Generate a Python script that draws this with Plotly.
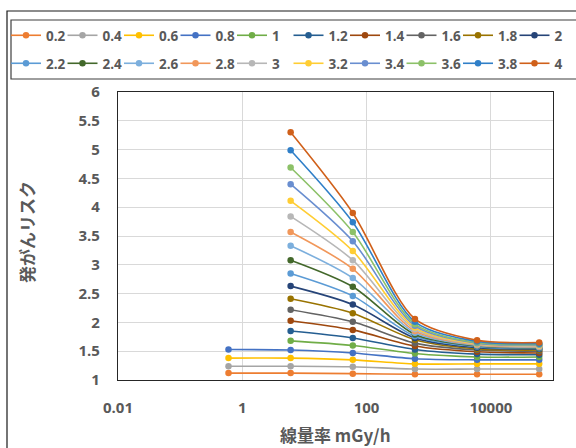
import plotly.graph_objects as go

# ---- data ----
dose_rate = [0.6, 6, 60, 600, 6000, 60000]
series_names = ["0.2", "0.4", "0.6", "0.8", "1", "1.2", "1.4", "1.6", "1.8", "2",
                "2.2", "2.4", "2.6", "2.8", "3", "3.2", "3.4", "3.6", "3.8", "4"]
risk_at_0_6 = [1.12, 1.24, 1.38, 1.53] + [None] * 16
risk_at_6 = [1.12, 1.24, 1.38, 1.52, 1.68, 1.85, 2.03, 2.22, 2.41, 2.63,
             2.85, 3.08, 3.33, 3.57, 3.84, 4.11, 4.40, 4.69, 4.99, 5.30]
risk_at_60 = [1.11, 1.23, 1.35, 1.47, 1.60, 1.73, 1.87, 2.01, 2.16, 2.31,
              2.46, 2.62, 2.77, 2.93, 3.08, 3.24, 3.41, 3.57, 3.74, 3.90]
risk_at_600 = [1.10, 1.19, 1.28, 1.37, 1.46, 1.53, 1.59, 1.64, 1.70, 1.73,
               1.76, 1.79, 1.82, 1.85, 1.88, 1.91, 1.94, 1.97, 2.01, 2.06]
risk_at_6000 = [1.10, 1.19, 1.28, 1.35, 1.40, 1.45, 1.49, 1.52, 1.54, 1.56,
                1.58, 1.59, 1.60, 1.61, 1.62, 1.63, 1.64, 1.65, 1.67, 1.69]
risk_at_60000 = [1.10, 1.19, 1.28, 1.35, 1.40, 1.44, 1.47, 1.50, 1.52, 1.54,
                 1.55, 1.56, 1.57, 1.58, 1.59, 1.60, 1.61, 1.62, 1.63, 1.65]
colors = ["#ED7D31", "#A5A5A5", "#FFC000", "#4472C4", "#70AD47",
          "#255E91", "#9E480E", "#636363", "#997300", "#264478",
          "#5B9BD5", "#43682B", "#7CAFDD", "#F1975A", "#B7B7B7",
          "#FFCD33", "#698ED0", "#8CC168", "#2F7FC8", "#D0601A"]
x_tickvals = [0.01, 1, 100, 10000]
x_ticktext = ["0.01", "1", "100", "10000"]
y_tickvals = [1, 1.5, 2, 2.5, 3, 3.5, 4, 4.5, 5, 5.5, 6]
y_ticktext = ["1", "1.5", "2", "2.5", "3", "3.5", "4", "4.5", "5", "5.5", "6"]

W, H = 576, 448
TXT = "#595959"
tick_font = dict(family="Open Sans", size=15, color=TXT, weight="bold")
leg_font = dict(family="Open Sans", size=13.5, color=TXT, weight="bold")
cjk_font = dict(family="Noto Sans CJK JP", size=17, color=TXT, weight="bold")

fig = go.Figure()
for i, name in enumerate(series_names):
    ys = [risk_at_0_6[i], risk_at_6[i], risk_at_60[i], risk_at_600[i],
          risk_at_6000[i], risk_at_60000[i]]
    fig.add_trace(go.Scatter(
        x=dose_rate, y=ys, name=name, mode="lines+markers",
        line=dict(color=colors[i], width=1.6, shape="spline", smoothing=0.8),
        marker=dict(color=colors[i], size=6.5),
        connectgaps=False,
        legend="legend" if i < 10 else "legend2",
    ))

def px_x(p):
    return p / W

def px_y(p):
    return 1 - p / H

leg_common = dict(orientation="h", xanchor="left", yanchor="top",
                  x=px_x(6), entrywidth=11.5, entrywidthmode="pixels",
                  font=leg_font, bgcolor="rgba(0,0,0,0)", borderwidth=0,
                  traceorder="normal")

fig.update_layout(
    width=W, height=H,
    margin=dict(l=0, r=0, t=0, b=0, autoexpand=False),
    paper_bgcolor="white", plot_bgcolor="white",
    xaxis=dict(type="log", range=[-2, 5.0], domain=[px_x(118), px_x(553)],
               tickvals=x_tickvals, ticktext=x_ticktext, tickfont=tick_font,
               showgrid=True, gridcolor="#D9D9D9", gridwidth=1,
               showline=True, linecolor="#262626", linewidth=1.3, mirror=True,
               ticks="", ticklabelstandoff=14, zeroline=False, automargin=False),
    yaxis=dict(range=[1, 6], domain=[px_y(380), px_y(92)],
               tickvals=y_tickvals, ticktext=y_ticktext, tickfont=tick_font,
               showgrid=True, gridcolor="#D9D9D9", gridwidth=1,
               showline=True, linecolor="#262626", linewidth=1.3, mirror=True,
               ticks="", ticklabelstandoff=14, zeroline=False, automargin=False),
    legend=dict(y=px_y(20), **leg_common),
    legend2=dict(y=px_y(48), **leg_common),
    annotations=[
        dict(text="発がんリスク", xref="paper", yref="paper", x=px_x(26), y=px_y(232),
             textangle=-90, showarrow=False, font=cjk_font,
             xanchor="center", yanchor="middle"),
        dict(text="線量率 mGy/h", xref="paper", yref="paper", x=px_x(335), y=px_y(434),
             showarrow=False, font=cjk_font, xanchor="center", yanchor="middle"),
    ],
    shapes=[
        dict(type="rect", xref="paper", yref="paper",
             x0=px_x(7), x1=1.1, y0=-0.1, y1=px_y(11),
             line=dict(color="#1a1a1a", width=1.2), fillcolor="rgba(0,0,0,0)", layer="below"),
        dict(type="rect", xref="paper", yref="paper",
             x0=px_x(11), x1=1.1, y0=px_y(79), y1=px_y(20),
             line=dict(color="#3F3F3F", width=1.2), fillcolor="rgba(0,0,0,0)", layer="below"),
    ],
)

fig.write_html("out.html")
